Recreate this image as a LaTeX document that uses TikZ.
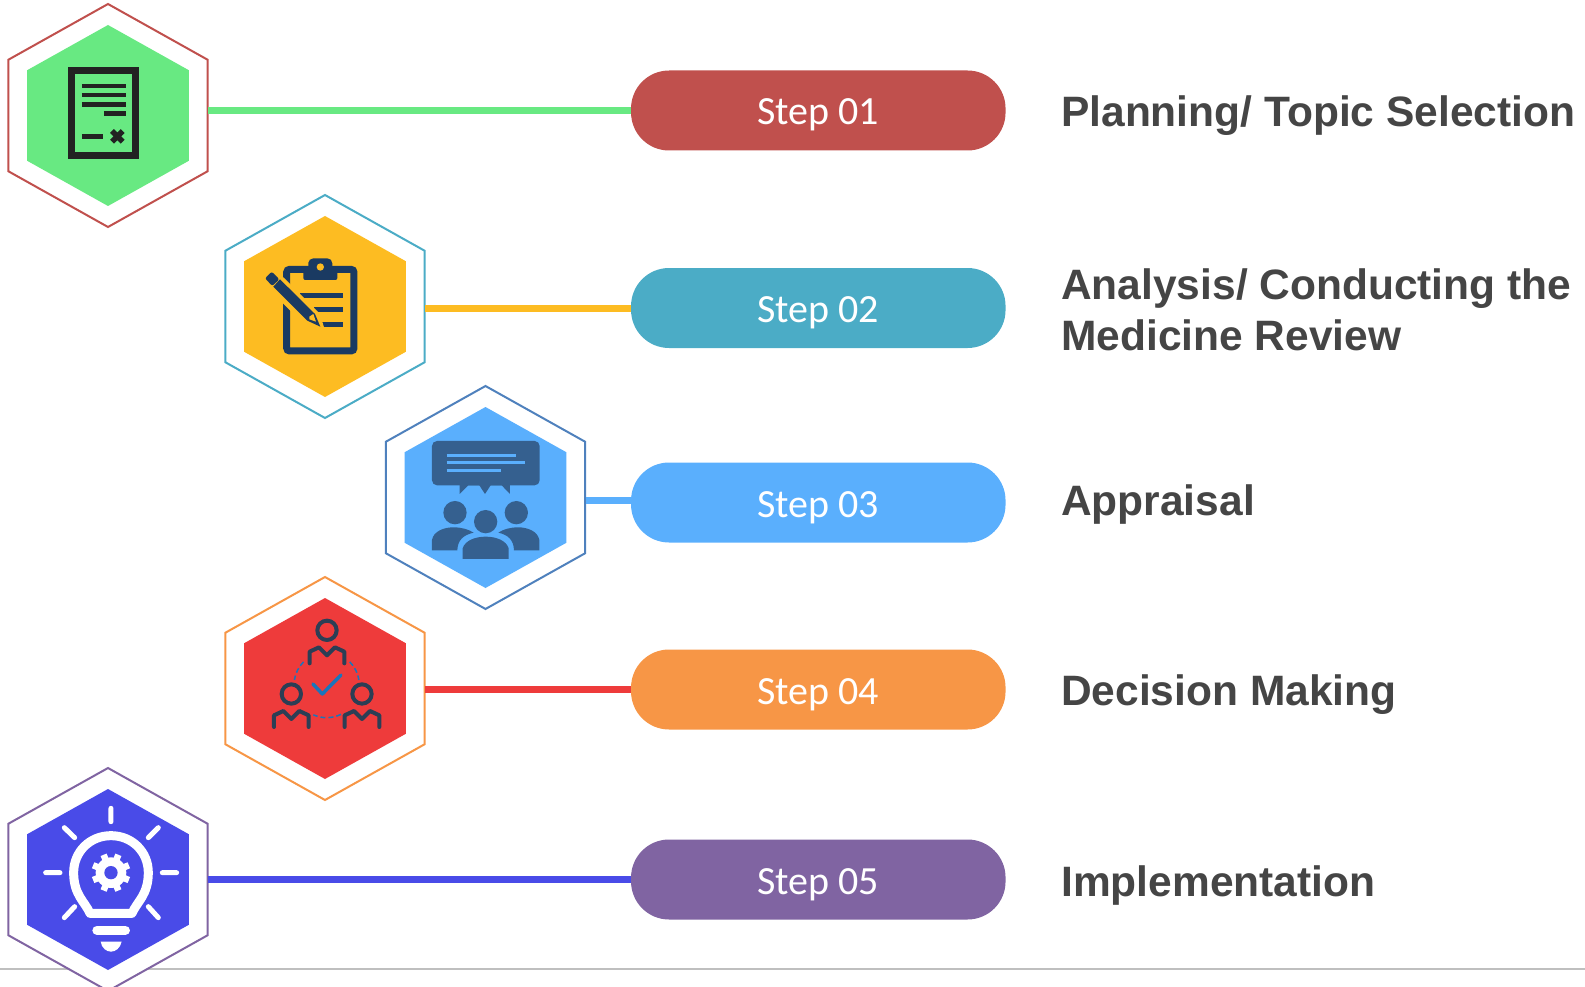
\documentclass[tikz,border=0pt]{standalone}
\usepackage{fontspec}
\newfontfamily\stepfont{Carlito}
\newfontfamily\titlefont{Liberation Sans}
\usetikzlibrary{
  positioning,
  shapes.geometric,
}
\definecolor{linegreen}{HTML}{68E982}
\definecolor{lineyellow}{HTML}{FDBC22}
\definecolor{lineblue}{HTML}{5AAFFD}
\definecolor{linered}{HTML}{EE3B3B}
\definecolor{lineindigo}{HTML}{494BE8}
\definecolor{stepred}{HTML}{C0504D}
\definecolor{stepteal}{HTML}{4BACC6}
\definecolor{stepsteel}{HTML}{4F81BD}
\definecolor{steporange}{HTML}{F79646}
\definecolor{steppurple}{HTML}{8064A2}
\definecolor{titlegray}{HTML}{454545}
\definecolor{rulegray}{HTML}{BFBFBF}
\definecolor{docblack}{HTML}{222222}
\definecolor{clipnavy}{HTML}{1A3A62}
\definecolor{talkblue}{HTML}{35608F}
\definecolor{teamdark}{HTML}{2C3E55}
\definecolor{teamblue}{HTML}{1B75BB}
\tikzset{
  hexagon/.style={regular polygon, regular polygon sides=6, shape border rotate=30, inner sep=0pt, outer sep=0.5pt, xscale=1.032, transform shape},
  hexouter/.style={hexagon, minimum size=223pt, fill=white, line width=2pt},
  hexinner/.style={hexagon, minimum size=181pt},
  stepbox/.style={rounded corners=38pt, minimum width=374.5pt, minimum height=80pt, text height=37pt, text depth=8pt, text=white, font=\stepfont\fontsize{40}{40}\selectfont},
  steptitle/.style={anchor=base west, inner sep=0pt, text=titlegray, align=left, font=\titlefont\bfseries\fontsize{42.5}{51}\selectfont},
  link/.style={line width=7pt},
  zoomed/.style={x=0.3333pt, y=-0.3333pt},
}

\begin{document}
\begin{tikzpicture}[x=1pt, y=-1pt]
      \useasboundingbox (0,0) rectangle (1585,987);
      \coordinate (ruleleft) at (0,969);
      \coordinate (ruleright) at (1585,969);
      \draw [rulegray, line width=2pt] (ruleleft) -- (ruleright);
      % hexagons
      \node [hexouter, draw=stepred] (hex1) at (108,115.5) {};
      \node [hexinner, fill=linegreen] (core1) at (hex1) {};
      \node [hexouter, draw=stepteal] (hex2) at (325,306.5) {};
      \node [hexinner, fill=lineyellow] (core2) at (hex2) {};
      \node [hexouter, draw=stepsteel] (hex3) at (485.5,497.5) {};
      \node [hexinner, fill=lineblue] (core3) at (hex3) {};
      \node [hexouter, draw=steporange] (hex4) at (325,688.5) {};
      \node [hexinner, fill=linered] (core4) at (hex4) {};
      \node [hexouter, draw=steppurple] (hex5) at (108,879.5) {};
      \node [hexinner, fill=lineindigo] (core5) at (hex5) {};
      % steps
      \node [stepbox, fill=stepred] (pill1) at (818.3,110.5) {Step 01};
      \node [stepbox, fill=stepteal] (pill2) at (818.3,308) {Step 02};
      \node [stepbox, fill=lineblue] (pill3) at (818.3,502.5) {Step 03};
      \node [stepbox, fill=steporange] (pill4) at (818.3,689.5) {Step 04};
      \node [stepbox, fill=steppurple] (pill5) at (818.3,879.5) {Step 05};
      \draw [link, linegreen] (hex1.east |- pill1) -- (pill1);
      \draw [link, lineyellow] (hex2.east |- pill2) -- (pill2);
      \draw [link, lineblue] ([yshift=1.8pt]hex3.east |- pill3) -- ([yshift=1.8pt]pill3.west);
      \draw [link, linered] (hex4.east |- pill4) -- (pill4);
      \draw [link, lineindigo] (hex5.east |- pill5) -- (pill5);
      % titles
      \node [steptitle] (title1) at (1061,127) {Planning/ Topic Selection};
      \node [steptitle] (title2) at (1061,350) {Analysis/ Conducting the\\Medicine Review};
      \node [steptitle] (title3) at (1061,515) {Appraisal};
      \node [steptitle] (title4) at (1061,705.5) {Decision Making};
      \node [steptitle] (title5) at (1061,896.5) {Implementation};
      % document icon
      \begin{scope}[shift={(0,0)}, zoomed]
        \draw [docblack, line width=7pt] (215,213) rectangle (407,467);
        \draw [docblack, line width=4.7pt]
          (246,258) -- (377,258) (246,285) -- (377,285) (246,313) -- (377,313)
          (312,340) -- (378,340) (246,409) -- (309,409);
        \draw [docblack, line width=5.5pt] (336,393) -- (368,425) (368,393) -- (336,425);
      \end{scope}
      % clipboard icon
      \begin{scope}[shift={(215,190)}, zoomed]
        \draw [clipnavy, line width=7pt, rounded corners=3pt] (215,238) rectangle (417,483);
        \fill [clipnavy, rounded corners=2pt] (265,270) -- (265,235) -- (280,235) -- (280,222) [rounded corners=5pt] -- (280,205) -- (352,205) [rounded corners=2pt] -- (352,235) -- (367,235) -- (367,270) -- cycle;
        \fill [lineyellow] (316,231) circle [radius=11];
        \draw [clipnavy, line width=5pt] (255,317) -- (385,317) (298,360) -- (385,360) (320,404) -- (385,404);
        \fill [lineyellow] (205,262) -- (315,372) -- (331,425) -- (277,413) -- (170,306) -- cycle;
        \fill [clipnavy] (195,268) -- (300,372) -- (316,410) -- (277,392) -- (175,290) -- cycle;
        \fill [lineyellow] (283,380) -- (295,372) -- (303,395) -- (283,388) -- cycle;
        \fill [clipnavy, rounded corners=2pt] (150,265) -- (170,245) -- (193,268) -- (172,288) -- cycle;
      \end{scope}
      % discussion icon
      \begin{scope}[shift={(375,380)}, zoomed]
        \fill [talkblue, rounded corners=5pt] (171,183) rectangle (494,316);
        \fill [talkblue] (254,310) -- (254,342) -- (280,316) -- (313,316) -- (330,342) -- (347,316) -- (380,316) -- (405,342) -- (405,310) -- cycle;
        \draw [lineblue, line width=3pt] (215,227) -- (423,227) (215,249) -- (450,249) (215,271) -- (379,271);
        \fill [talkblue] (240,398) circle [radius=35] (424,398) circle [radius=35] (332,425) circle [radius=35];
        \fill [talkblue] (171,511) -- (171,480) .. controls (175,455) and (205,442) .. (235,442) .. controls (260,442) and (280,448) .. (296,458) .. controls (265,465) and (248,480) .. (247,511) -- cycle;
        \fill [talkblue] (493,511) -- (493,480) .. controls (489,455) and (459,442) .. (430,442) .. controls (405,442) and (385,448) .. (370,458) .. controls (400,465) and (416,480) .. (417,511) -- cycle;
        \fill [talkblue] (263,537) -- (263,505) .. controls (270,482) and (300,470) .. (332,470) .. controls (364,470) and (394,482) .. (401,505) -- (401,537) -- cycle;
      \end{scope}
      % team icon
      \begin{scope}[shift={(215,570)}, zoomed]
        \foreach \dx/\dy in {0/0, -107/191, 105/191} {
          \draw [teamdark, line width=4pt, line cap=round, line join=round, shift={(\dx,\dy)}]
            (336,181) circle [radius=29]
            (284,280) -- (284,245) -- (312,232) -- (336,256) -- (360,232) -- (388,245) -- (388,280);
        }
        \draw [teamblue, line width=1.5pt, dash pattern=on 5pt off 3pt]
          (335,345) ++(-45:98) arc [start angle=-45, end angle=-9, radius=98]
          (335,345) ++(-135:98) arc [start angle=-135, end angle=-171, radius=98]
          (335,345) ++(64:98) arc [start angle=64, end angle=114, radius=98];
        \draw [teamblue, line width=3.5pt, line cap=round, line join=round] (294,342) -- (322,372) -- (378,315);
      \end{scope}
      % idea icon
      \begin{scope}[shift={(0,760)}, zoomed]
        \draw [white, line width=5pt, line cap=round]
          (333,145) -- (333,185) (137,338) -- (180,338) (487,338) -- (530,338)
          (193,203) -- (224,233) (475,203) -- (445,233) (193,473) -- (224,440) (475,473) -- (445,440);
        \draw [white, line width=9pt, line join=round] (270,460) .. controls (255,425) and (221,405) .. (221,338) .. controls (221,275) and (270,227) .. (333,227) .. controls (396,227) and (445,275) .. (445,338) .. controls (445,405) and (411,425) .. (396,460) -- cycle;
        \fill [white] (333,338) circle [radius=46];
        \foreach \a in {0,45,...,315} {
          \draw [white, line width=6.5pt] (333,338) ++(\a+22.5:38) -- ++(\a+22.5:20);
        }
        \fill [lineindigo] (333,338) circle [radius=20];
        \draw [white, line width=9.3pt, line cap=round] (291,511) -- (376,511);
        \fill [white] (302,545) .. controls (305,565) and (320,575) .. (333,575) .. controls (346,575) and (361,565) .. (365,545) -- cycle;
      \end{scope}
    \end{tikzpicture}
\end{document}
